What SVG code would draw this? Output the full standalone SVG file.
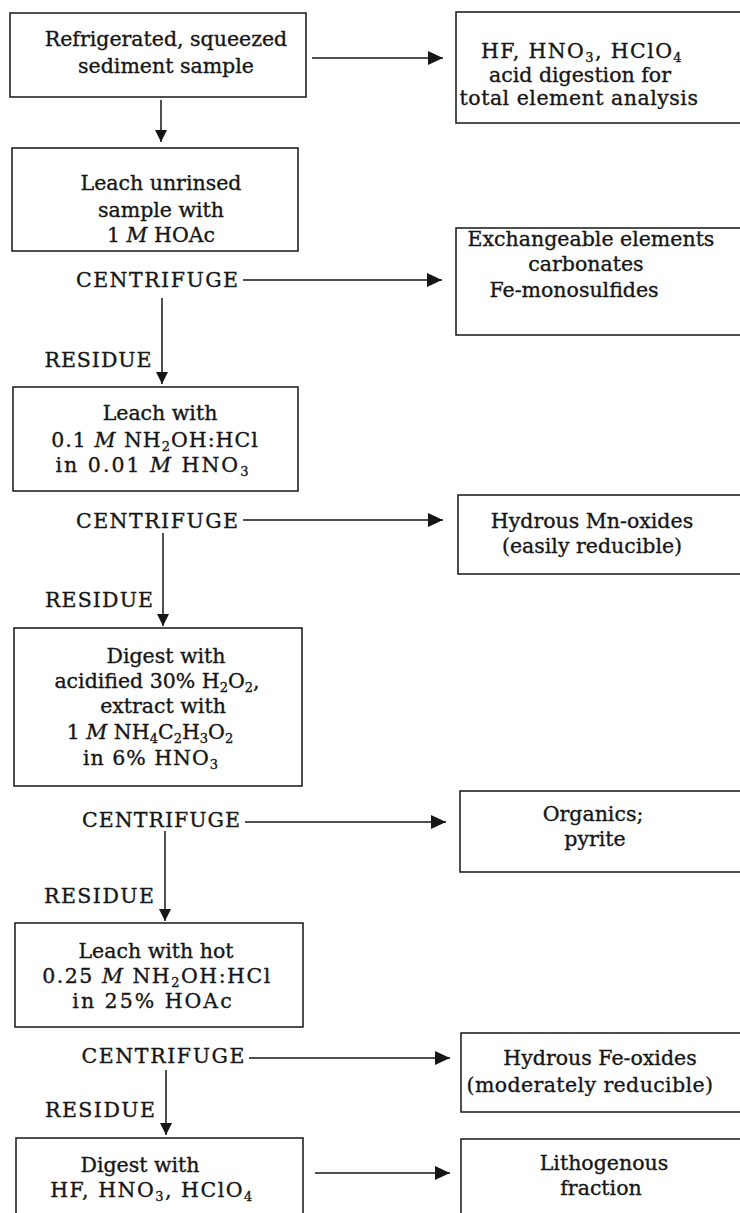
<svg xmlns="http://www.w3.org/2000/svg" width="740" height="1213" viewBox="0 0 740 1213">
<style>
.box{fill:#fff;stroke:#161616;stroke-width:1.5}
.t{font-family:"DejaVu Serif","Liberation Serif",serif;font-size:20.5px;fill:#161616;stroke:#161616;stroke-width:0.35;text-anchor:middle}
.s{font-size:13px}
.i{font-style:italic}
.c{stroke:#161616;stroke-width:1.5;fill:none}
</style>
<defs>
<marker id="ar" markerUnits="userSpaceOnUse" markerWidth="16" markerHeight="16" viewBox="0 0 16 16" refX="15" refY="8" orient="auto">
<path d="M0,1 L15,8 L0,15 Z" fill="#161616"/>
</marker>
<marker id="ad" markerUnits="userSpaceOnUse" markerWidth="13" markerHeight="13" viewBox="0 0 13 13" refX="12" refY="6.5" orient="auto">
<path d="M0,0.5 L12,6.5 L0,12.5 Z" fill="#161616"/>
</marker>
</defs>
<rect width="740" height="1213" fill="#fff"/>
<g id="connectors">
<line class="c" x1="312" y1="58" x2="443" y2="58" marker-end="url(#ar)"/>
<line class="c" x1="161" y1="100" x2="161" y2="142" marker-end="url(#ad)"/>
<line class="c" x1="243" y1="280" x2="442" y2="280" marker-end="url(#ar)"/>
<line class="c" x1="162" y1="298" x2="162" y2="384" marker-end="url(#ad)"/>
<line class="c" x1="243" y1="520" x2="443" y2="520" marker-end="url(#ar)"/>
<line class="c" x1="163" y1="533" x2="163" y2="626" marker-end="url(#ad)"/>
<line class="c" x1="245" y1="822" x2="446" y2="822" marker-end="url(#ar)"/>
<line class="c" x1="165" y1="831" x2="165" y2="921" marker-end="url(#ad)"/>
<line class="c" x1="249" y1="1058" x2="450" y2="1058" marker-end="url(#ar)"/>
<line class="c" x1="166" y1="1070" x2="166" y2="1135" marker-end="url(#ad)"/>
<line class="c" x1="315" y1="1173" x2="450" y2="1173" marker-end="url(#ar)"/>
</g>
<g id="n1"><rect class="box" x="10" y="13" width="296" height="84"/>
<text class="t" x="166" y="46">Refrigerated, squeezed</text>
<text class="t" x="166" y="73">sediment sample</text></g>
<g id="n2"><rect class="box" x="456" y="12" width="292" height="111"/>
<text class="t" x="582" y="58" letter-spacing="1.4">HF, HNO<tspan class="s" dy="4">3</tspan><tspan dy="-4">, HClO</tspan><tspan class="s" dy="4">4</tspan></text>
<text class="t" x="580" y="82">acid digestion for</text>
<text class="t" x="579" y="105" letter-spacing="0.5">total element analysis</text></g>
<g id="n3"><rect class="box" x="12" y="148" width="286" height="103"/>
<text class="t" x="161" y="190">Leach unrinsed</text>
<text class="t" x="161" y="217">sample with</text>
<text class="t" x="161" y="242">1 <tspan class="i">M</tspan> HOAc</text></g>
<g id="cent1"><text class="t" x="157" y="287" textLength="162" lengthAdjust="spacing">CENTRIFUGE</text></g>
<g id="n4"><rect class="box" x="456" y="228" width="292" height="107"/>
<text class="t" x="591" y="246">Exchangeable elements</text>
<text class="t" x="586" y="271">carbonates</text>
<text class="t" x="574" y="297">Fe-monosulfides</text></g>
<g id="res1"><text class="t" x="98" y="367" textLength="107" lengthAdjust="spacing">RESIDUE</text></g>
<g id="n5"><rect class="box" x="13" y="387" width="285" height="104"/>
<text class="t" x="160" y="420">Leach with</text>
<text class="t" x="155" y="447" letter-spacing="1">0.1 <tspan class="i">M</tspan> NH<tspan class="s" dy="4">2</tspan><tspan dy="-4">OH:HCl</tspan></text>
<text class="t" x="153" y="472" letter-spacing="2">in 0.01 <tspan class="i">M</tspan> HNO<tspan class="s" dy="4">3</tspan></text></g>
<g id="cent2"><text class="t" x="157" y="528" textLength="162" lengthAdjust="spacing">CENTRIFUGE</text></g>
<g id="n6"><rect class="box" x="458" y="495" width="290" height="79"/>
<text class="t" x="592" y="528">Hydrous Mn-oxides</text>
<text class="t" x="592" y="553">(easily reducible)</text></g>
<g id="res2"><text class="t" x="99" y="607" textLength="108" lengthAdjust="spacing">RESIDUE</text></g>
<g id="n7"><rect class="box" x="14" y="628" width="288" height="158"/>
<text class="t" x="166" y="663">Digest with</text>
<text class="t" x="157" y="688">acidified 30% H<tspan class="s" dy="4">2</tspan><tspan dy="-4">O</tspan><tspan class="s" dy="4">2</tspan><tspan dy="-4">,</tspan></text>
<text class="t" x="163" y="713">extract with</text>
<text class="t" x="150" y="739">1 <tspan class="i">M</tspan> NH<tspan class="s" dy="4">4</tspan><tspan dy="-4">C</tspan><tspan class="s" dy="4">2</tspan><tspan dy="-4">H</tspan><tspan class="s" dy="4">3</tspan><tspan dy="-4">O</tspan><tspan class="s" dy="4">2</tspan></text>
<text class="t" x="151" y="765" letter-spacing="1">in 6% HNO<tspan class="s" dy="4">3</tspan></text></g>
<g id="cent3"><text class="t" x="161" y="827" textLength="158" lengthAdjust="spacing">CENTRIFUGE</text></g>
<g id="n8"><rect class="box" x="460" y="791" width="288" height="81"/>
<text class="t" x="593" y="821">Organics;</text>
<text class="t" x="595" y="846">pyrite</text></g>
<g id="res3"><text class="t" x="99" y="903" textLength="110" lengthAdjust="spacing">RESIDUE</text></g>
<g id="n9"><rect class="box" x="15" y="923" width="288" height="104"/>
<text class="t" x="156" y="958">Leach with hot</text>
<text class="t" x="157" y="983" letter-spacing="1.5">0.25 <tspan class="i">M</tspan> NH<tspan class="s" dy="4">2</tspan><tspan dy="-4">OH:HCl</tspan></text>
<text class="t" x="153" y="1008" letter-spacing="2">in 25% HOAc</text></g>
<g id="cent4"><text class="t" x="163" y="1063" textLength="163" lengthAdjust="spacing">CENTRIFUGE</text></g>
<g id="n10"><rect class="box" x="461" y="1033" width="287" height="79"/>
<text class="t" x="600" y="1065">Hydrous Fe-oxides</text>
<text class="t" x="590" y="1092" letter-spacing="0.4">(moderately reducible)</text></g>
<g id="res4"><text class="t" x="100" y="1117" textLength="110" lengthAdjust="spacing">RESIDUE</text></g>
<g id="n11"><rect class="box" x="16" y="1138" width="287" height="90"/>
<text class="t" x="140" y="1172">Digest with</text>
<text class="t" x="152" y="1197" letter-spacing="1.5">HF, HNO<tspan class="s" dy="4">3</tspan><tspan dy="-4">, HClO</tspan><tspan class="s" dy="4">4</tspan></text></g>
<g id="n12"><rect class="box" x="461" y="1139" width="287" height="90"/>
<text class="t" x="604" y="1170">Lithogenous</text>
<text class="t" x="601" y="1195">fraction</text></g>
</svg>
